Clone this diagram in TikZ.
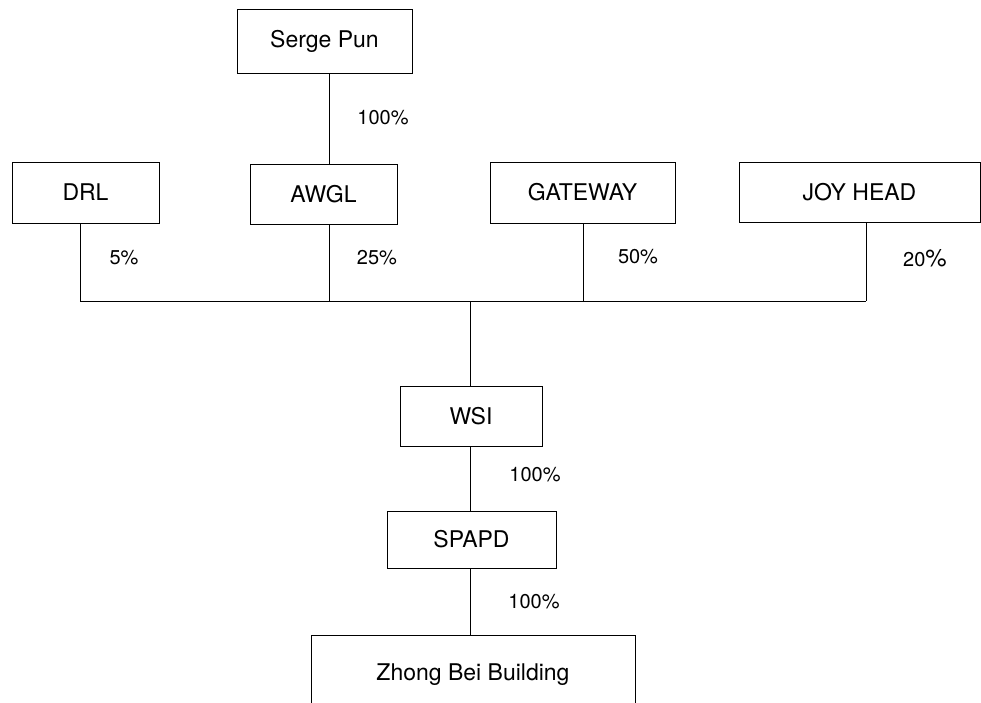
\documentclass[tikz,border=0pt]{standalone}
\usepackage{fontspec}
\setmainfont{TeX Gyre Heros}
\begin{document}
\begin{tikzpicture}[x=1pt,y=-1pt,
  box/.style={draw=black, line width=1pt, inner sep=0pt, outer sep=0pt,
    font=\fontsize{23}{27}\selectfont},
  lbl/.style={inner sep=0pt, font=\fontsize{20}{24}\selectfont},
  link/.style={draw=black, line width=1pt}]
\clip (0,0) rectangle (981,702);
\fill[white] (0,0) rectangle (981,702);

% boxes
\node[box, minimum width=175pt, minimum height=64pt] (serge) at (324.5,41) {Serge Pun};
\node[box, minimum width=147pt, minimum height=61pt] (drl) at (85.5,192.5) {DRL};
\node[box, minimum width=147pt, minimum height=60pt] (awgl) at (323.5,194) {AWGL};
\node[box, minimum width=185pt, minimum height=61pt] (gateway) at (582.5,192.5) {GATEWAY};
\node[box, minimum width=241pt, minimum height=60pt] (joy) at (859.5,192) {JOY HEAD};
\node[box, minimum width=142pt, minimum height=60pt] (wsi) at (471,416) {WSI};
\node[box, minimum width=169pt, minimum height=57pt] (spapd) at (471.5,539.5) {SPAPD};
\node[box, minimum width=324pt, minimum height=80pt] (zhong) at (473,675) {Zhong Bei Building};

% bus coordinates
\coordinate (bdrl) at (80,301);
\coordinate (bawgl) at (329,301);
\coordinate (bgate) at (583,301);
\coordinate (bjoy) at (866,301);
\coordinate (bmid) at (470.5,301);

% connectors
\draw[link] (serge.south -| bawgl) -- (awgl.north -| bawgl);
\draw[link] (drl.south -| bdrl) -- (bdrl);
\draw[link] (awgl.south -| bawgl) -- (bawgl);
\draw[link] (gateway.south -| bgate) -- (bgate);
\draw[link] (joy.south -| bjoy) -- (bjoy);
\draw[link] (bdrl) -- (bjoy);
\draw[link] (bmid) -- (wsi.north -| bmid);
\draw[link] (wsi.south -| bmid) -- (spapd.north -| bmid);
\draw[link] (spapd.south -| bmid) -- (zhong.north -| bmid);

% labels
\node[lbl] (p1) at (383,118) {100\%};
\node[lbl] (p2) at (124,258) {5\%};
\node[lbl] (p3) at (377,258) {25\%};
\node[lbl] (p4) at (638,257) {50\%};
\node[lbl] (p5) at (925,258) {20{\fontsize{24}{28}\selectfont\%}};
\node[lbl] (p6) at (535,475) {100\%};
\node[lbl] (p7) at (534,602) {100\%};
\end{tikzpicture}
\end{document}
